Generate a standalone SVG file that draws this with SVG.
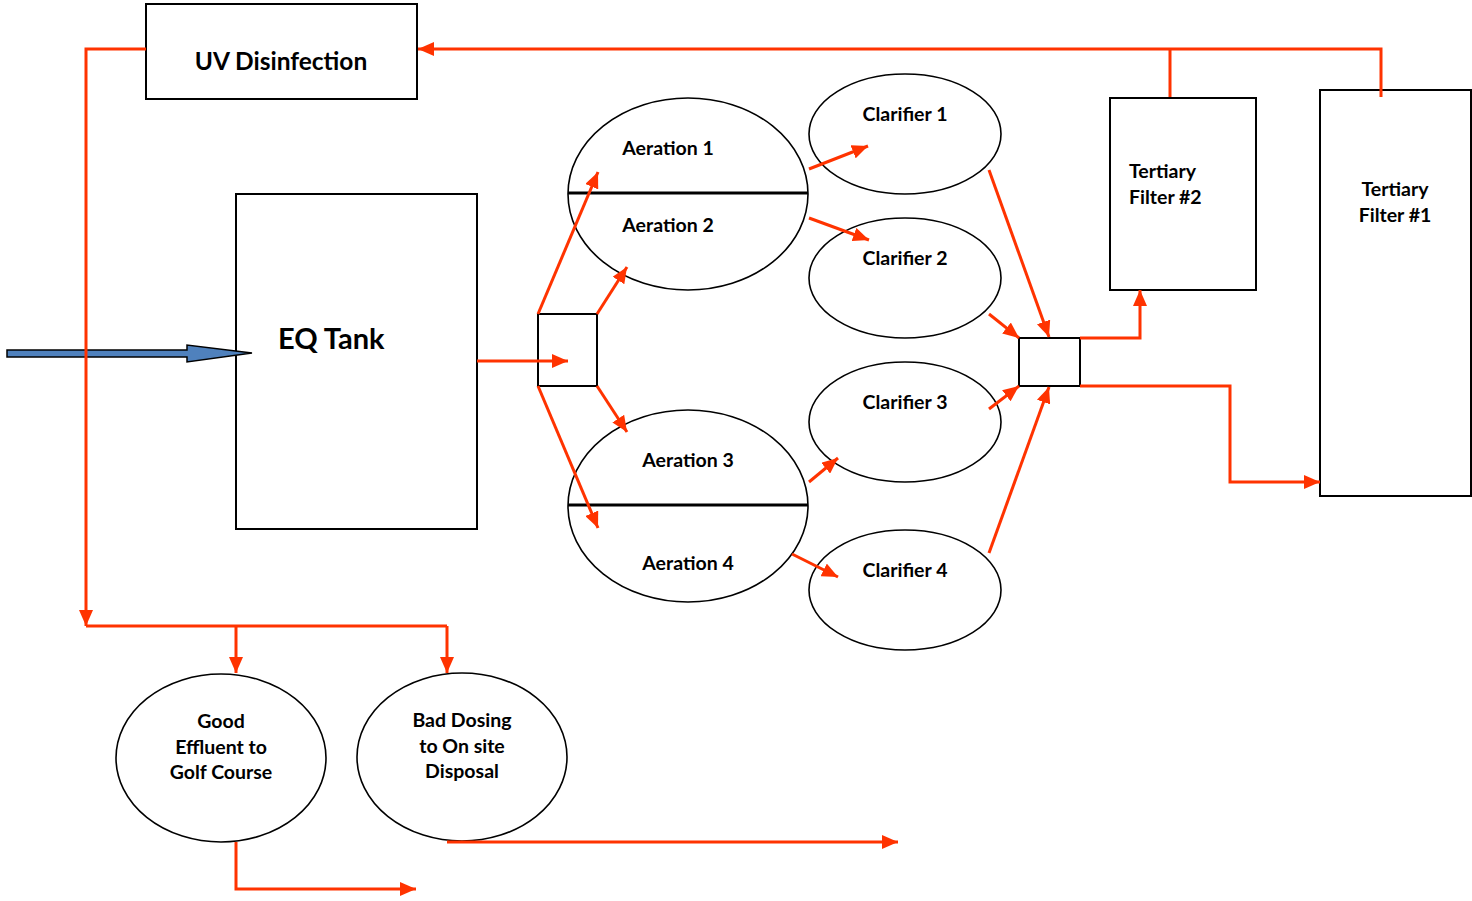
<svg xmlns="http://www.w3.org/2000/svg" width="1472" height="901" viewBox="0 0 1472 901">
<style>
.box{fill:#fff;stroke:#000;stroke-width:2}
.ell{fill:#fff;stroke:#000;stroke-width:1.6}
.div{stroke:#000;stroke-width:3}
.t{font-family:Lato,"Open Sans","Liberation Sans",sans-serif;font-weight:bold;fill:#000;font-size:19.5px}
.c{text-anchor:middle}
.f{fill:none;stroke:#FF3300;stroke-width:3}
.a{marker-end:url(#ah)}
</style>
<defs>
<marker id="ah" markerUnits="userSpaceOnUse" markerWidth="16" markerHeight="14" refX="16" refY="7" orient="auto" viewBox="0 0 16 14">
<path d="M0,0 L16,7 L0,14 z" fill="#FF3300"/>
</marker>
</defs>
<rect width="1472" height="901" fill="#fff"/>

<g id="uv"><rect class="box" x="146" y="4" width="271" height="95"/><text class="t c" x="281" y="70" style="font-size:24.5px">UV Disinfection</text></g>
<g id="eq"><rect class="box" x="236" y="194" width="241" height="335"/><text class="t" x="278" y="349" style="font-size:29px">EQ Tank</text></g>
<g id="split"><rect class="box" x="538" y="314" width="59" height="72"/></g>
<g id="aer12"><ellipse class="ell" cx="688" cy="194" rx="120" ry="96"/><line class="div" x1="568" y1="193" x2="808" y2="193"/><text class="t c" x="668" y="155">Aeration 1</text><text class="t c" x="668" y="232">Aeration 2</text></g>
<g id="aer34"><ellipse class="ell" cx="688" cy="506" rx="120" ry="96"/><line class="div" x1="568" y1="505" x2="808" y2="505"/><text class="t c" x="688" y="467">Aeration 3</text><text class="t c" x="688" y="570">Aeration 4</text></g>
<g id="cl1"><ellipse class="ell" cx="905" cy="134" rx="96" ry="60"/><text class="t c" x="905" y="121">Clarifier 1</text></g>
<g id="cl2"><ellipse class="ell" cx="905" cy="278" rx="96" ry="60"/><text class="t c" x="905" y="265">Clarifier 2</text></g>
<g id="cl3"><ellipse class="ell" cx="905" cy="422" rx="96" ry="60"/><text class="t c" x="905" y="409">Clarifier 3</text></g>
<g id="cl4"><ellipse class="ell" cx="905" cy="590" rx="96" ry="60"/><text class="t c" x="905" y="577">Clarifier 4</text></g>
<g id="join"><rect class="box" x="1019" y="338" width="61" height="48"/></g>
<g id="tf2"><rect class="box" x="1110" y="98" width="146" height="192"/><text class="t" x="1129" y="178">Tertiary</text><text class="t" x="1129" y="204">Filter #2</text></g>
<g id="tf1"><rect class="box" x="1320" y="90" width="151" height="406"/><text class="t c" x="1395" y="196">Tertiary</text><text class="t c" x="1395" y="222">Filter #1</text></g>
<g id="good"><ellipse class="ell" cx="221" cy="758" rx="105" ry="84"/><text class="t c" x="221" y="728">Good</text><text class="t c" x="221" y="754">Effluent to</text><text class="t c" x="221" y="779">Golf Course</text></g>
<g id="bad"><ellipse class="ell" cx="462" cy="757" rx="105" ry="84"/><text class="t c" x="462" y="727">Bad Dosing</text><text class="t c" x="462" y="753">to On site</text><text class="t c" x="462" y="778">Disposal</text></g>

<g id="inflow"><path d="M7,350 H187 V345 L252,353 L187,362 V357 H7 Z" fill="#4F81BD" stroke="#000" stroke-width="1.5"/></g>

<g id="connectors">
<line class="f a" x1="477" y1="361" x2="568" y2="361"/>
<line class="f a" x1="538" y1="314" x2="598" y2="172"/>
<line class="f a" x1="597" y1="314" x2="627" y2="267"/>
<line class="f a" x1="597" y1="386" x2="627" y2="432"/>
<line class="f a" x1="538" y1="386" x2="598" y2="528"/>
<line class="f a" x1="809" y1="169" x2="868" y2="146"/>
<line class="f a" x1="809" y1="218" x2="869" y2="240"/>
<line class="f a" x1="809" y1="482" x2="838" y2="458"/>
<line class="f a" x1="792" y1="554" x2="838" y2="577"/>
<line class="f a" x1="989" y1="170" x2="1049" y2="337"/>
<line class="f a" x1="989" y1="314" x2="1019" y2="338"/>
<line class="f a" x1="989" y1="409" x2="1019" y2="386"/>
<line class="f a" x1="989" y1="553" x2="1049" y2="387"/>
<polyline class="f a" points="1080,338 1140,338 1140,290"/>
<polyline class="f a" points="1080,386 1230,386 1230,482 1320,482"/>
<polyline class="f a" points="1381,97 1381,49 418,49"/>
<line class="f" x1="1170" y1="97" x2="1170" y2="49"/>
<polyline class="f a" points="146,49 86,49 86,626"/>
<line class="f" x1="86" y1="626" x2="447" y2="626"/>
<polyline class="f a" points="236,626 236,673"/>
<polyline class="f a" points="447,626 447,673"/>
<polyline class="f a" points="236,842 236,889 416,889"/>
<line class="f a" x1="447" y1="842" x2="898" y2="842"/>
</g>
</svg>
